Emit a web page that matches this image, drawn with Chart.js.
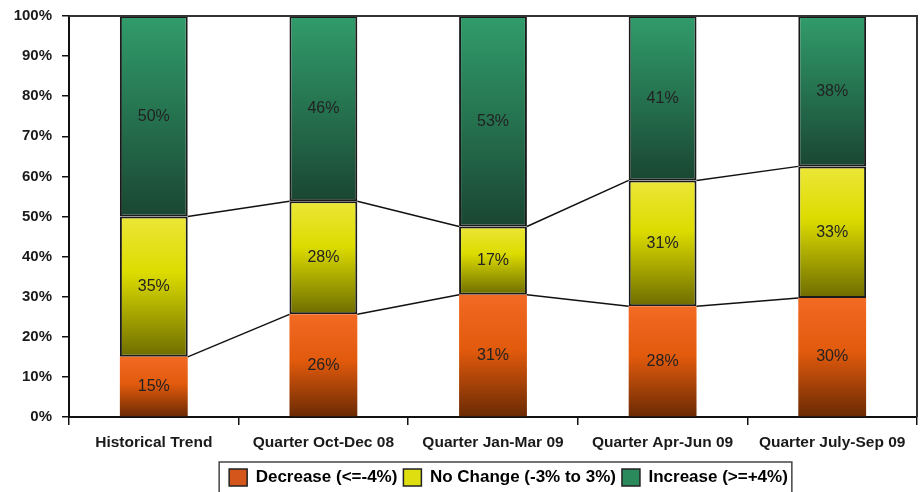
<!DOCTYPE html>
<html>
<head>
<meta charset="utf-8">
<script src="https://cdn.jsdelivr.net/npm/chart.js@4"></script>
<style>
  body { margin: 0; background: #fff; }
  #wrap { width: 920px; height: 492px; }
</style>
</head>
<body>
<div id="wrap"><canvas id="chart"></canvas></div>
<script>
const categories = ['Historical Trend', 'Quarter Oct-Dec 08', 'Quarter Jan-Mar 09', 'Quarter Apr-Jun 09', 'Quarter July-Sep 09'];
const decrease = [15, 25.6, 30.5, 27.6, 29.7];
const noChange = [35, 28.2, 17, 31.4, 32.8];
const increase = [50, 46.2, 52.5, 41, 37.5];
const seriesNames = ['Decrease (<=-4%)', 'No Change (-3% to 3%)', 'Increase (>=+4%)'];
const yTicks = [0, 10, 20, 30, 40, 50, 60, 70, 80, 90, 100];

Chart.defaults.font.family = '"Liberation Sans", Arial, sans-serif';

// gradient stops, top -> bottom
const gradStops = [
  [[0, '#f26a24'], [0.45, '#e25a0c'], [1, '#6a2a04']],
  [[0, '#ece638'], [0.4, '#dcdc00'], [1, '#6e6c00']],
  [[0, '#319c6b'], [0.5, '#25724f'], [1, '#1a4632']]
];
const legendFill = ['#d4561a', '#dede10', '#2a8a5c'];

function barGradient(ctx) {
  const chart = ctx.chart;
  if (!chart.chartArea || ctx.type !== 'data') return legendFill[ctx.datasetIndex];
  const ds = chart.data.datasets;
  let below = 0;
  for (let k = 0; k < ctx.datasetIndex; k++) below += ds[k].data[ctx.dataIndex];
  const val = ds[ctx.datasetIndex].data[ctx.dataIndex];
  const y = chart.scales.y;
  const g = chart.ctx.createLinearGradient(0, y.getPixelForValue(below + val), 0, y.getPixelForValue(below));
  gradStops[ctx.datasetIndex].forEach(s => g.addColorStop(s[0], s[1]));
  return g;
}

const connectors = {
  id: 'connectors',
  afterDatasetsDraw(chart) {
    const c = chart.ctx;
    c.save();
    c.strokeStyle = '#111';
    c.lineWidth = 1.5;
    for (let d = 0; d < 2; d++) {
      const bars = chart.getDatasetMeta(d).data;
      for (let i = 0; i < bars.length - 1; i++) {
        const a = bars[i], b = bars[i + 1];
        c.beginPath();
        c.moveTo(a.x + a.width / 2, a.y);
        c.lineTo(b.x - b.width / 2, b.y);
        c.stroke();
      }
    }
    c.restore();
  }
};

const valueLabels = {
  id: 'valueLabels',
  afterDatasetsDraw(chart) {
    const c = chart.ctx;
    c.save();
    c.font = '16px "Liberation Sans", Arial, sans-serif';
    c.fillStyle = '#222';
    c.textAlign = 'center';
    c.textBaseline = 'middle';
    chart.data.datasets.forEach((ds, d) => {
      chart.getDatasetMeta(d).data.forEach((bar, i) => {
        c.fillText(Math.round(ds.data[i]) + '%', bar.x, (bar.y + bar.base) / 2);
      });
    });
    c.restore();
  }
};

// legend sits a bit right of centre and lower in the original
const legendShift = {
  id: 'legendShift',
  afterLayout(chart) {
    chart.legend.left += 50;
    chart.legend.right += 50;
    chart.legend.top += 4;
    chart.legend.bottom += 4;
  }
};

const frame = {
  id: 'frame',
  afterDraw(chart) {
    const c = chart.ctx;
    const a = chart.chartArea;
    c.save();
    c.strokeStyle = '#333';
    c.lineWidth = 2;
    c.beginPath();
    c.moveTo(a.left, a.top);
    c.lineTo(a.right, a.top);
    c.lineTo(a.right, a.bottom);
    c.stroke();
    const boxes = chart.legend.legendHitBoxes;
    if (boxes && boxes.length) {
      const l = Math.min(...boxes.map(b => b.left)) - 10;
      const r = Math.max(...boxes.map(b => b.left + b.width)) + 4;
      const t = Math.min(...boxes.map(b => b.top)) - 7;
      c.strokeStyle = '#444';
      c.lineWidth = 1.5;
      c.strokeRect(l, t, r - l, 60);
    }
    c.restore();
  }
};

new Chart(document.getElementById('chart'), {
  type: 'bar',
  data: {
    labels: categories,
    datasets: [decrease, noChange, increase].map((vals, i) => ({
      label: seriesNames[i],
      data: vals,
      backgroundColor: barGradient,
      borderColor: '#1a1a1a',
      borderWidth: i === 0 ? 0 : 2,
      borderSkipped: false,
      barPercentage: 0.4,
      categoryPercentage: 1
    }))
  },
  options: {
    responsive: true,
    maintainAspectRatio: false,
    animation: false,
    layout: { padding: { top: 16, right: 3, left: 0, bottom: 0 } },
    scales: {
      x: {
        stacked: true,
        grid: { drawOnChartArea: false, tickLength: 8, color: '#111', lineWidth: 1.5, offset: true },
        border: { color: '#111', width: 2 },
        ticks: { color: '#1a1a1a', padding: 8, maxRotation: 0, autoSkip: false, font: { weight: 'bold', size: 15.5 } },
        afterFit(s) { s.height = 42; }
      },
      y: {
        stacked: true,
        min: 0,
        max: 100,
        afterBuildTicks(s) { s.ticks = yTicks.map(v => ({ value: v })); },
        grid: { drawOnChartArea: false, tickLength: 7, color: '#111', lineWidth: 1.5 },
        border: { color: '#111', width: 2 },
        ticks: { color: '#1a1a1a', padding: 10, font: { weight: 'bold', size: 15 }, callback: v => v + '%' },
        afterFit(s) { s.width = 69; s.paddingTop = 0; s.paddingBottom = 0; }
      }
    },
    plugins: {
      tooltip: { enabled: false },
      legend: {
        position: 'bottom',
        labels: {
          boxWidth: 18,
          boxHeight: 17,
          padding: 6,
          color: '#111',
          font: { weight: 'bold', size: 17 },
          generateLabels: () => seriesNames.map((t, i) => ({
            text: t,
            fillStyle: legendFill[i],
            strokeStyle: '#222',
            lineWidth: 1.5,
            hidden: false,
            datasetIndex: i
          }))
        }
      }
    }
  },
  plugins: [legendShift, connectors, valueLabels, frame]
});
</script>
</body>
</html>
